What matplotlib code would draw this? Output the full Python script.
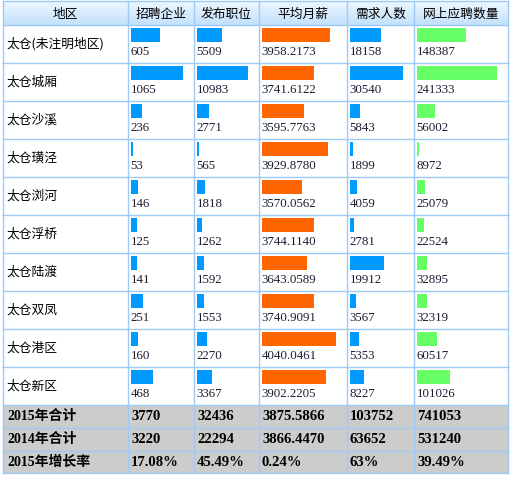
import numpy as np
import matplotlib
matplotlib.use("Agg")
import matplotlib.pyplot as plt
from matplotlib.colors import LinearSegmentedColormap

# 数据
headers = ['地区', '招聘企业', '发布职位', '平均月薪', '需求人数', '网上应聘数量']
regions = ['太仓(未注明地区)', '太仓城厢', '太仓沙溪', '太仓璜泾', '太仓浏河',
           '太仓浮桥', '太仓陆渡', '太仓双凤', '太仓港区', '太仓新区']
companies = [605, 1065, 236, 53, 146, 125, 141, 251, 160, 468]
jobs = [5509, 10983, 2771, 565, 1818, 1262, 1592, 1553, 2270, 3367]
salary = [3958.2173, 3741.6122, 3595.7763, 3929.8780, 3570.0562,
          3744.1140, 3643.0589, 3740.9091, 4040.0461, 3902.2205]
demand = [18158, 30540, 5843, 1899, 4059, 2781, 19912, 3567, 5353, 8227]
applicants = [148387, 241333, 56002, 8972, 25079, 22524, 32895, 32319, 60517, 101026]

summary_labels = ['2015年合计', '2014年合计', '2015年增长率']
total_2015 = ['3770', '32436', '3875.5866', '103752', '741053']
total_2014 = ['3220', '22294', '3866.4470', '63652', '531240']
growth = ['17.08%', '45.49%', '0.24%', '63%', '39.49%']

# 布局(像素)
W, H = 513, 478
col_x = [3, 128, 194, 259, 347, 414, 508]
header_top, header_bot = 1, 25
row_h = 38
sum_edges = [405, 428, 451, 473]
grid_color = '#9ecbf5'
cjk = ['Noto Sans CJK SC', 'DejaVu Sans']
num_font = ['Liberation Serif', 'Noto Sans CJK SC']

fig = plt.figure(figsize=(W / 100, H / 100), dpi=100)
ax = fig.add_axes([0, 0, 1, 1])
ax.set_xlim(0, W)
ax.set_ylim(H, 0)
ax.axis('off')

# 表头渐变
cmap = LinearSegmentedColormap.from_list('hdr', ['#eef7ff', '#c2e1fc'])
ax.imshow(np.linspace(0, 1, 50).reshape(-1, 1), cmap=cmap, aspect='auto',
          extent=[col_x[0], col_x[-1], header_bot, header_top], zorder=0)
for i, h in enumerate(headers):
    ax.text((col_x[i] + col_x[i + 1]) / 2, (header_top + header_bot) / 2 + 1, h,
            ha='center', va='center', fontsize=9.2, family=cjk, color='black')

# 汇总行背景
ax.fill_between([col_x[0], col_x[-1]], sum_edges[0], sum_edges[-1],
                color='#cccccc', zorder=0, lw=0)

# 柱状数据
columns = [companies, jobs, salary, demand, applicants]
colors = ['#0099ff', '#0099ff', '#ff6600', '#0099ff', '#66ff66']
row_tops = header_bot + row_h * np.arange(len(regions))

for r, name in enumerate(regions):
    ax.text(col_x[0] + 4, row_tops[r] + row_h / 2, name, ha='left', va='center',
            fontsize=9.2, family=cjk, color='black')

for c, vals in enumerate(columns):
    vals = np.array(vals, dtype=float)
    left = col_x[c + 1] + 2.5
    maxw = (col_x[c + 2] - col_x[c + 1]) - 14
    base = 3000 if c == 2 else 0
    widths = (vals - base) / (vals.max() - base) * maxw
    ax.barh(row_tops + 2.5 + 7, widths, height=14, left=left,
            color=colors[c], zorder=2)
    for r, v in enumerate(vals):
        label = f'{v:.4f}' if c == 2 else f'{int(v)}'
        ax.text(left, row_tops[r] + 27, label, ha='left', va='center',
                fontsize=9.3, family=num_font, color='#1c1c30')

# 汇总行
for k, (lab, vals) in enumerate(zip(summary_labels, [total_2015, total_2014, growth])):
    yc = (sum_edges[k] + sum_edges[k + 1]) / 2
    ax.text(col_x[0] + 4, yc, lab, ha='left', va='center', fontsize=10,
            family=num_font, weight='bold', color='black')
    for c, v in enumerate(vals):
        ax.text(col_x[c + 1] + 3, yc, v, ha='left', va='center', fontsize=10.6,
                family=num_font, weight='bold', color='black')

# 网格线
hlines = [header_top, header_bot] + list(row_tops[1:]) + sum_edges
for y in hlines:
    ax.plot([col_x[0], col_x[-1]], [y, y], color=grid_color, lw=1, zorder=3)
for x in col_x:
    ax.plot([x, x], [header_top, sum_edges[-1]], color=grid_color, lw=1, zorder=3)

fig.savefig('out.png', dpi=100)
